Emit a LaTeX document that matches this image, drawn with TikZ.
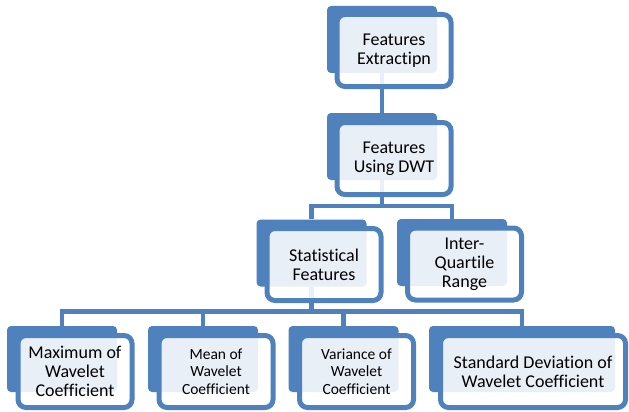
\documentclass[tikz,border=0pt]{standalone}
\usepackage{fontspec}
\setmainfont{Carlito}[Ligatures=NoCommon]
\usepackage{tikz}
\usetikzlibrary{positioning, calc}
\definecolor{boxblue}{RGB}{79, 129, 189}

\begin{document}
\begin{tikzpicture}[x=1pt, y=-1pt,
			back/.style={rectangle, fill=boxblue, rounded corners=4pt, minimum width=110pt, minimum height=67pt, inner sep=0pt},
			front/.style={rectangle, draw=boxblue, line width=5pt, fill=white, fill opacity=0.88, text opacity=1, rounded corners=8pt, minimum width=114pt, minimum height=72pt, align=center, inner sep=0pt, font=\fontsize{18}{19}\selectfont},
			small/.style={font=\fontsize{15.5}{17.7}\selectfont},
			link/.style={draw=boxblue, line width=4.5pt}
		]
		\useasboundingbox (0,0) rectangle (629,412);
		% back plates
		\node[back] (extrB) at (382,39.5) {};
		\node[back] (dwtB) at (382,146.5) {};
		\node[back] (statB) at (311.5,253) {};
		\node[back] (iqrB) at (452,252.5) {};
		\node[back, minimum height=66pt] (maxB) at (62,359) {};
		\node[back, minimum height=66pt] (meanB) at (203,359) {};
		\node[back, minimum height=66pt] (varB) at (343.5,359) {};
		\node[back, minimum height=66pt, minimum width=186pt] (stdB) at (522,359) {};
		
		% connectors
		\draw[link] (extrB.south) -- (dwtB.north);
		\draw[link] (dwtB.south) -- ++(0,26) -| (statB.north);
		\draw[link] (dwtB.south) -- ++(0,26) -| (iqrB.north);
		\draw[link] (statB.south) -- ++(0,25) -| (maxB.north);
		\draw[link] (statB.south) -- ++(0,25) -| (meanB.north);
		\draw[link] (statB.south) -- ++(0,25) -| (varB.north);
		\draw[link] (statB.south) -- ++(0,25) -| (stdB.north);
		
		% front boxes
		\node[front] (extr) at ([shift={(12,11)}]extrB.center) {Features\\Extractipn};
		\node[front] (dwt) at ([shift={(12,12)}]dwtB.center) {Features\\Using DWT};
		\node[front] (stat) at ([shift={(12.5,11.5)}]statB.center) {Statistical\\Features};
		\node[front] (iqr) at ([shift={(12.5,11.5)}]iqrB.center) {Inter-\\Quartile\\Range};
		\node[front] (max) at ([shift={(13,12.5)}]maxB.center) {Maximum of\\Wavelet\\Coefficient};
		\node[front, small] (mean) at ([shift={(13,12.5)}]meanB.center) {Mean of\\Wavelet\\Coefficient};
		\node[front, small] (var) at ([shift={(13,12.5)}]varB.center) {Variance of\\Wavelet\\Coefficient};
		\node[front, minimum width=185pt] (std) at ([shift={(11,12.5)}]stdB.center) {Standard Deviation of\\Wavelet Coefficient};
		\end{tikzpicture}
\end{document}
